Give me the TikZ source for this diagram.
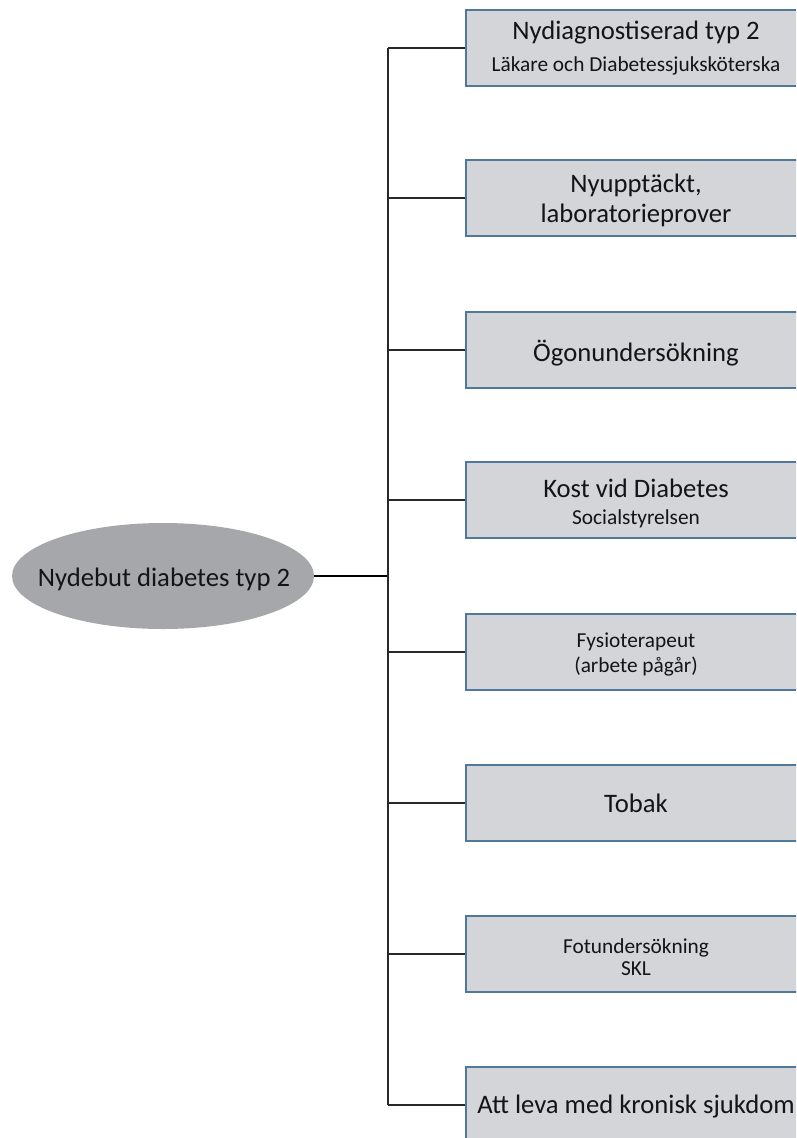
\documentclass[tikz,border=0pt]{standalone}
\usepackage{fontspec}
\setmainfont{Carlito}
\usetikzlibrary{shapes.geometric}
\definecolor{boxfill}{RGB}{211,213,217}
\definecolor{boxline}{RGB}{80,120,155}
\definecolor{rootfill}{RGB}{166,167,171}
\definecolor{linecol}{RGB}{40,40,40}
\definecolor{txtcol}{RGB}{20,20,20}
\tikzset{
  box/.style={draw=boxline, line width=1.3pt, fill=boxfill, minimum width=255pt, minimum height=57pt, inner sep=0pt},
  root/.style={ellipse, fill=rootfill, minimum width=226.5pt, minimum height=79.5pt, inner sep=0pt},
  bigt/.style={anchor=base, inner sep=0pt, text=txtcol, font=\fontsize{20}{24}\selectfont},
  smt/.style={anchor=base, inner sep=0pt, text=txtcol, font=\fontsize{16}{20}\selectfont},
  conn/.style={draw=linecol, line width=0.8pt},
  rootconn/.style={draw=black, line width=1.5pt}
}
\begin{document}
\begin{tikzpicture}[x=0.75pt,y=-0.75pt]
\useasboundingbox (0,0) rectangle (796,1138);
\clip (0,0) rectangle (796,1138);
\node[root] (root) at (163,576) {};
\node[bigt] (roottxt) at (164,586) {Nydebut diabetes typ 2};
\coordinate (j) at (388,576);
\node[box] (b1) at (636,48) {};
\node[box] (b2) at (636,198) {};
\node[box] (b3) at (636,350) {};
\node[box] (b4) at (636,500) {};
\node[box] (b5) at (636,652) {};
\node[box] (b6) at (636,803) {};
\node[box] (b7) at (636,954) {};
\node[box] (b8) at (636,1105) {};
\node[bigt] (t1a) at (636,40) {Nydiagnostiserad typ 2};
\node[smt]  (t1b) at (636,72) {Läkare och Diabetessjuksköterska};
\node[bigt] (t2a) at (636,192) {Nyupptäckt,};
\node[bigt] (t2b) at (636,222) {laboratorieprover};
\node[bigt] (t3)  at (636,361) {Ögonundersökning};
\node[bigt] (t4a) at (636,497) {Kost vid Diabetes};
\node[smt]  (t4b) at (636,524) {Socialstyrelsen};
\node[smt]  (t5a) at (636,647) {Fysioterapeut};
\node[smt]  (t5b) at (636,672) {(arbete pågår)};
\node[bigt] (t6)  at (636,812) {Tobak};
\node[smt]  (t7a) at (636,953) {Fotundersökning};
\node[smt]  (t7b) at (636,975) {SKL};
\node[bigt] (t8)  at (636,1113) {Att leva med kronisk sjukdom};
\draw[rootconn] (root.east) -- (j);
\draw[conn] (j |- b1.west) -- (j |- b8.west);
\foreach \b in {b1,b2,b3,b4,b5,b6,b7,b8}
  \draw[conn] (j |- \b.west) -- (\b.west);
\end{tikzpicture}
\end{document}
